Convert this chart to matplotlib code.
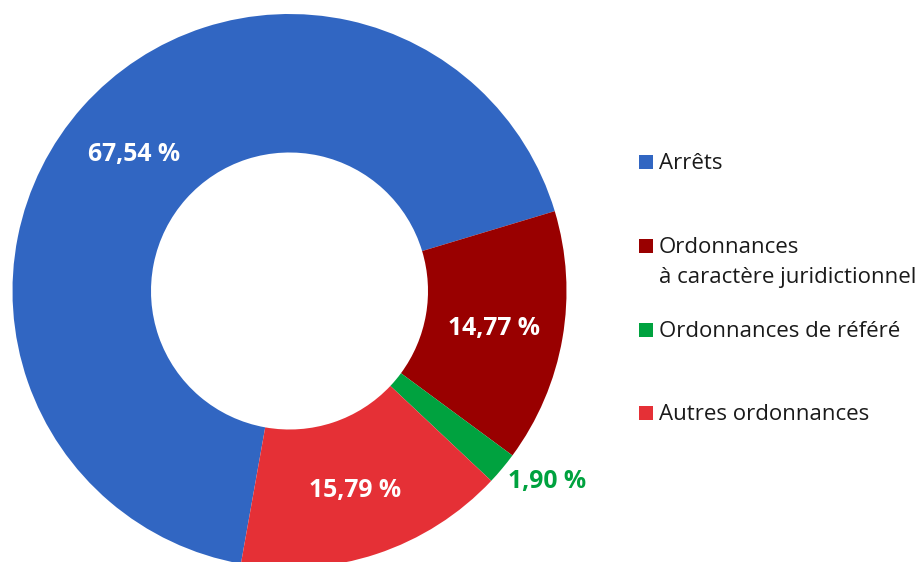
import matplotlib
matplotlib.use("Agg")
import matplotlib.pyplot as plt
from matplotlib.patches import Rectangle
import numpy as np

categories = ["Arrêts", "Ordonnances\nà caractère juridictionnel", "Ordonnances de référé", "Autres ordonnances"]
values = [67.54, 14.77, 1.90, 15.79]
colors = ["#3166c2", "#990000", "#00a23f", "#e53036"]
label_colors = ["white", "white", "#00a23f", "white"]

plt.rcParams['font.family'] = ['Open Sans', 'DejaVu Sans']

W, H = 918, 562
fig = plt.figure(figsize=(W / 100, H / 100), dpi=100)
ax = fig.add_axes([0, 0, 1, 1])

cx, cy = 289.5, H - 291
R = 277
wedges, _ = ax.pie(values, colors=colors, startangle=259.9, counterclock=False,
                   radius=R, center=(cx, cy),
                   wedgeprops=dict(width=R * 0.5, linewidth=0))
ax.set_xlim(0, W)
ax.set_ylim(0, H)
ax.set_aspect('equal')
ax.axis('off')

def fmt(v):
    return f"{v:.2f}".replace(".", ",") + " %"

half_cap = 8.4
for w, v, lc in zip(wedges, values, label_colors):
    mid = np.deg2rad((w.theta1 + w.theta2) / 2)
    if v < 5:
        r = R * 1.0
        x, y = cx + r * np.cos(mid), cy + r * np.sin(mid)
        ax.annotate(fmt(v), (x, y - half_cap), xytext=(6, -11), textcoords='offset pixels',
                    ha='left', va='baseline', fontsize=17.8, fontweight='bold', color=lc)
    else:
        r = R * 0.75
        x, y = cx + r * np.cos(mid), cy + r * np.sin(mid)
        ax.text(x, y - half_cap, fmt(v), ha='center', va='baseline', fontsize=17.8,
                fontweight='bold', color=lc)

# legend
baselines = [169.3, 253.3, 337.4, 420.2]
line_gap = 30
for cat, col, b in zip(categories, colors, baselines):
    ax.add_patch(Rectangle((639, H - (b - 0.5)), 14, 14, color=col, lw=0))
    for i, line in enumerate(cat.split("\n")):
        ax.text(659, H - (b + i * line_gap), line, ha='left', va='baseline',
                fontsize=16, color='#1a1a1a')

fig.savefig("out.png", dpi=100)
